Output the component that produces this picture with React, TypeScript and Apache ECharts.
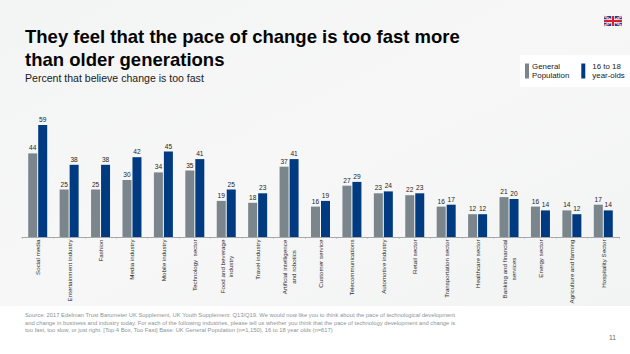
import React, { useEffect, useRef } from "react";
import * as echarts from "echarts";

const titleText = "They feel that the pace of change is too fast more\nthan older generations";
const subtitleText = "Percent that believe change is too fast";
const categories = [
  "Social media", "Entertainment industry", "Fashion", "Media industry", "Mobile industry",
  "Technology  sector", "Food and beverage\nindustry", "Travel industry",
  "Artificial intelligence\nand robotics", "Customer service", "Telecommunications",
  "Automotive industry", "Retail sector", "Transportation sector", "Healthcare sector",
  "Banking and financial\nservices", "Energy sector", "Agriculture and farming", "Hospitality Sector",
];
const generalPopulation = [44, 25, 25, 30, 34, 35, 19, 18, 37, 16, 27, 23, 22, 16, 12, 21, 16, 14, 17];
const youth = [59, 38, 38, 42, 45, 41, 25, 23, 41, 19, 29, 24, 23, 17, 12, 20, 14, 12, 14];
const seriesNames = ["General\nPopulation", "16 to 18\nyear-olds"];
const footnote = [
  "Source: 2017 Edelman Trust Barometer UK Supplement, UK Youth Supplement: Q13/Q19. We would now like you to think about the pace of technological development",
  "and change in business and industry today. For each of the following industries, please tell us whether you think that the pace of technology development and change is",
  "too fast, too slow, or just right. [Top 4 Box, Too Fast] Base: UK General Population (n=1,150), 16 to 18 year olds (n=617)",
];
const pageNumber = "11";

const FONT = '"Liberation Sans", Arial, sans-serif';
const LABEL_SIZE = 6.2;

function measure(text: string) {
  const ctx = document.createElement("canvas").getContext("2d")!;
  ctx.font = `${LABEL_SIZE}px ${FONT}`;
  return ctx.measureText(text).width;
}

function flag() {
  const x = 604, y = 16, w = 18, h = 10;
  const line = (x1: number, y1: number, x2: number, y2: number, stroke: string, lineWidth: number) => ({
    type: "line", silent: true, shape: { x1, y1, x2, y2 }, style: { stroke, lineWidth },
  });
  return [
    { type: "rect", silent: true, shape: { x, y, width: w, height: h }, style: { fill: "#2b3f8f" } },
    line(x, y, x + w, y + h, "#fff", 2),
    line(x, y + h, x + w, y, "#fff", 2),
    line(x, y, x + w, y + h, "#d8202f", 0.7),
    line(x, y + h, x + w, y, "#d8202f", 0.7),
    line(x + w / 2, y, x + w / 2, y + h, "#fff", 3.4),
    line(x, y + h / 2, x + w, y + h / 2, "#fff", 3.4),
    line(x + w / 2, y, x + w / 2, y + h, "#d8202f", 2),
    line(x, y + h / 2, x + w, y + h / 2, "#d8202f", 2),
  ];
}

export default function App() {
  const ref = useRef<HTMLDivElement>(null);
  useEffect(() => {
    document.body.style.margin = "0";
    const chart = echarts.init(ref.current!, null, { renderer: "svg" });
    const rich: Record<string, any> = {};
    const base = { fontFamily: FONT, fontSize: LABEL_SIZE, color: "#2a2a2a", lineHeight: 8.4 };
    categories.forEach((c, i) => {
      const lines = c.split("\n");
      if (lines.length > 1) {
        const w = Math.ceil(Math.max(...lines.map(measure)));
        rich["l" + i] = { ...base, width: w, align: "center" };
      }
    });
    const dataLabel = {
      show: true, position: "top" as const, distance: 2, fontFamily: FONT, fontSize: 6.6,
      color: "#1d1d1d", fontWeight: 500,
    };
    const legendText = { fontFamily: FONT, fontSize: 7.9, color: "#1a1a1a", lineHeight: 9 };
    chart.setOption({
      animation: false,
      backgroundColor: "#ffffff",
      textStyle: { fontFamily: FONT },
      title: {
        text: titleText, subtext: subtitleText, left: 25, top: 25.5, padding: 0, itemGap: 1,
        textStyle: { fontFamily: FONT, fontSize: 18.5, fontWeight: "bold", color: "#050505", lineHeight: 22.7 },
        subtextStyle: { fontFamily: FONT, fontSize: 10.56, color: "#1a1a1a", lineHeight: 12 },
      },
      legend: {
        left: 520, top: 55, width: 110, padding: [7, 8, 7, 5], itemGap: 12, itemWidth: 4, itemHeight: 15,
        backgroundColor: "#ffffff", icon: "rect", selectedMode: false,
        textStyle: legendText,
        data: [
          { name: seriesNames[0], textStyle: { ...legendText, padding: [0, 0, 0, -2] } },
          { name: seriesNames[1], textStyle: { ...legendText, padding: [-2, 0, 0, 2] } },
        ],
      },
      grid: { left: 22, right: 11, top: 123, bottom: 117 },
      xAxis: {
        type: "category", data: categories,
        axisLine: { lineStyle: { color: "#a5a9ab", width: 1 } },
        axisTick: { show: true, length: 1.5, lineStyle: { color: "#a5a9ab" } },
        axisLabel: {
          interval: 0, rotate: 90, margin: 2.5, fontFamily: FONT, fontSize: LABEL_SIZE, color: "#2a2a2a",
          lineHeight: 8.4, hideOverlap: false, rich,
          formatter: (v: string) => {
            const i = categories.indexOf(v);
            const lines = v.split("\n");
            return lines.length > 1 ? lines.map((l) => `{l${i}|${l}}`).join("\n") : v;
          },
        },
      },
      yAxis: { type: "value", min: 0, max: 60, show: false, splitLine: { show: false } },
      series: [
        { name: seriesNames[0], type: "bar", data: generalPopulation, barWidth: 9, barGap: "11%",
          itemStyle: { color: "#7a868b" }, label: dataLabel },
        { name: seriesNames[1], type: "bar", data: youth, barWidth: 9,
          itemStyle: { color: "#003a80" }, label: dataLabel },
      ],
      graphic: [
        { type: "rect", silent: true, z: -10, shape: { x: 0, y: 0, width: 630, height: 306 },
          style: { fill: new echarts.graphic.LinearGradient(0, 0, 1, 1, [
            { offset: 0, color: "#f3f4f4" }, { offset: 0.5, color: "#f7f7f7" }, { offset: 1, color: "#f2f3f3" },
          ]) } },
        ...flag(),
        ...footnote.map((text, i) => ({
          type: "text", silent: true, x: 25, y: 312 + i * 7.5,
          style: { text, fontFamily: FONT, fontSize: 5.8, fill: "#8b9498" },
        })),
        { type: "text", silent: true, x: 609, y: 333.5,
          style: { text: pageNumber, fontFamily: FONT, fontSize: 6.7, fill: "#5f6669" } },
      ],
    });
    return () => chart.dispose();
  }, []);
  return <div ref={ref} style={{ width: 630, height: 354 }} />;
}
